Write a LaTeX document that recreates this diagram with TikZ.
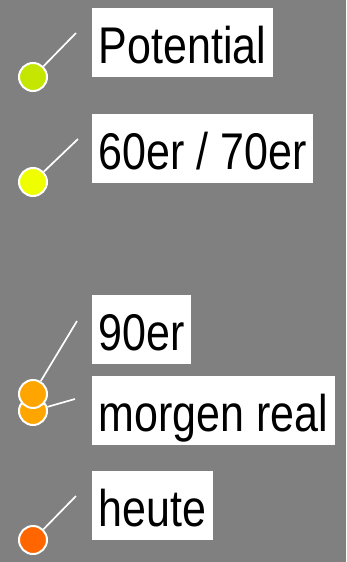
\documentclass[tikz,border=0pt]{standalone}
\usepackage{fontspec}
\setmainfont{Liberation Sans}
\definecolor{bggray}{RGB}{128,128,128}
\definecolor{cpot}{RGB}{196,230,0}
\definecolor{csixty}{RGB}{240,255,0}
\definecolor{cninety}{RGB}{255,165,0}
\definecolor{cheute}{RGB}{255,102,0}
\tikzset{
  dot/.style={circle, draw=white, line width=2pt, minimum size=28pt, inner sep=0pt},
  conn/.style={draw=white, line width=1.7pt},
  lbl/.style={fill=white, anchor=north west, inner xsep=6.5pt, inner ysep=0pt,
    text height=55pt, text depth=14pt, font=\fontsize{43}{43}\selectfont},
}
\newcommand{\tallt}[1]{\scalebox{1}[1.2]{#1}}
\begin{document}
\begin{tikzpicture}[x=1pt, y=-1pt]
  \fill[bggray] (0,0) rectangle (346,562);
  \useasboundingbox (0,0) rectangle (346,562);

  % Potential
  \node[lbl] (lpot) at (92,8) {\tallt{Potential}};
  \node[dot, fill=cpot] (dpot) at (33,77) {};
  \coordinate (epot) at (76,33);
  \draw[conn] (dpot) -- (epot);

  % 60er / 70er
  \node[lbl] (lsix) at (92,114) {\tallt{60er / 70er}};
  \node[dot, fill=csixty] (dsix) at (33,182) {};
  \coordinate (esix) at (78,139);
  \draw[conn] (dsix) -- (esix);

  % morgen real (drawn first, lies beneath the 90er marker)
  \node[lbl] (lmor) at (92,376) {\tallt{morgen real}};
  \node[dot, fill=cninety] (dmor) at (33,411) {};
  \coordinate (emor) at (75,399);
  \draw[conn] (dmor) -- (emor);

  % 90er
  \node[lbl] (lnin) at (92,295) {\tallt{90er}};
  \node[dot, fill=cninety] (dnin) at (33,394) {};
  \coordinate (enin) at (77,321);
  \draw[conn] (dnin) -- (enin);

  % heute
  \node[lbl] (lheu) at (92,471) {\tallt{heute}};
  \node[dot, fill=cheute] (dheu) at (33,540) {};
  \coordinate (eheu) at (76,496);
  \draw[conn] (dheu) -- (eheu);
\end{tikzpicture}
\end{document}
